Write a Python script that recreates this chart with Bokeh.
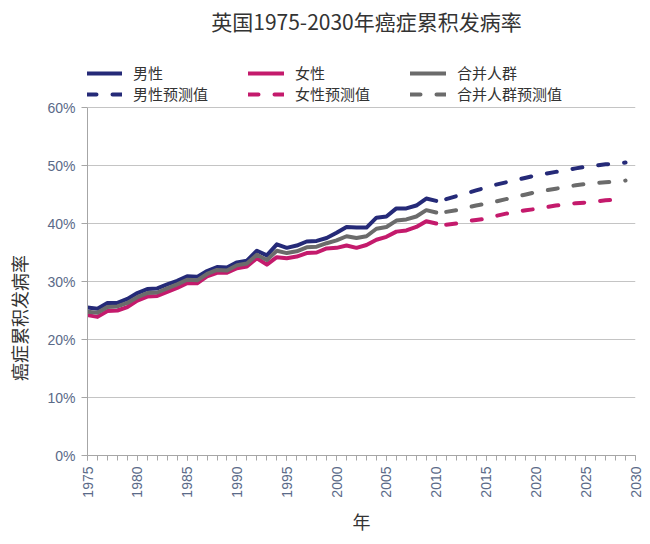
import math
from bokeh.plotting import figure
from bokeh.models import (Range1d, SingleIntervalTicker, FixedTicker, PrintfTickFormatter,
                          Legend, LegendItem, Label)
from bokeh.embed import file_html
from bokeh.resources import INLINE

# ---------------- data ----------------
years_obs = list(range(1975, 2011))
men_obs = [25.5, 25.3, 26.3, 26.3, 27.0, 28.0, 28.7, 28.8, 29.5, 30.1,
           30.9, 30.8, 31.8, 32.5, 32.4, 33.3, 33.6, 35.3, 34.5, 36.4,
           35.8, 36.2, 36.9, 37.0, 37.5, 38.4, 39.4, 39.3, 39.3, 41.0,
           41.2, 42.6, 42.6, 43.1, 44.3, 43.9]
women_obs = [24.2, 23.9, 24.9, 25.0, 25.6, 26.7, 27.4, 27.5, 28.2, 28.9,
             29.7, 29.7, 30.9, 31.5, 31.5, 32.3, 32.6, 34.0, 32.9, 34.2,
             34.0, 34.3, 34.9, 35.0, 35.7, 35.8, 36.2, 35.8, 36.3, 37.2,
             37.7, 38.6, 38.8, 39.4, 40.4, 40.0]
all_obs = [24.8, 24.6, 25.6, 25.7, 26.3, 27.3, 28.0, 28.1, 28.8, 29.5,
           30.3, 30.2, 31.3, 32.0, 31.9, 32.8, 33.1, 34.6, 33.7, 35.3,
           34.9, 35.2, 35.9, 36.0, 36.6, 37.1, 37.8, 37.5, 37.8, 39.1,
           39.4, 40.5, 40.7, 41.2, 42.3, 41.9]

years_proj = list(range(2011, 2030))
men_proj = [44.2, 44.7, 45.2, 45.7, 46.2, 46.7, 47.1, 47.5, 47.9, 48.3,
            48.6, 48.9, 49.2, 49.5, 49.8, 50.0, 50.2, 50.3, 50.5]
women_proj = [39.8, 40.0, 40.4, 40.6, 40.8, 41.3, 41.7, 42.0, 42.3, 42.5,
              42.8, 43.1, 43.3, 43.5, 43.6, 43.8, 44.0, 44.1, 44.2]
all_proj = [42.0, 42.3, 42.7, 43.1, 43.4, 43.8, 44.2, 44.6, 45.0, 45.4,
            45.7, 46.0, 46.3, 46.6, 46.8, 47.0, 47.1, 47.2, 47.4]

series_labels = ["男性", "女性", "合并人群", "男性预测值", "女性预测值", "合并人群预测值"]
title_text = "英国1975-2030年癌症累积发病率"
x_label = "年"
y_label = "癌症累积发病率"
y_ticks = [0, 10, 20, 30, 40, 50, 60]

# ---------------- style ----------------
C_MEN = "#252a78"
C_WOMEN = "#c41a6c"
C_ALL = "#6b6b6b"
TICK_COLOR = "#5a6a88"
TEXT_COLOR = "#333333"
CJK = "Noto Sans CJK SC"

W, H = 650, 540
TOP, BOTTOM = 0, 455           # frame top / bottom (px): frame spans the top so title & legend sit inside it
Y60 = 107                      # where the 60% line sits
Y_MAX = 60 + (Y60 - TOP) * 60 / float(BOTTOM - Y60)
p = figure(width=W, height=H, output_backend="svg", toolbar_location=None, title=None,
           x_range=Range1d(1975, 2030), y_range=Range1d(0, Y_MAX),
           min_border_left=87, min_border_right=15, min_border_top=TOP,
           min_border_bottom=H - BOTTOM)
p.outline_line_color = None
p.background_fill_color = "white"
p.border_fill_color = "white"

# axes
p.xaxis.ticker = SingleIntervalTicker(interval=5, num_minor_ticks=5)
p.xaxis.major_label_orientation = math.pi / 2
p.xaxis.major_label_text_font = "Liberation Sans"
p.xaxis.major_label_text_font_size = "14px"
p.xaxis.major_label_text_color = TICK_COLOR
p.xaxis.axis_line_color = "#a6a6a6"
p.xaxis.major_tick_line_color = "#a6a6a6"
p.xaxis.minor_tick_line_color = "#a6a6a6"
p.xaxis.major_tick_in = 0
p.xaxis.major_tick_out = 5
p.xaxis.minor_tick_in = 0
p.xaxis.minor_tick_out = 5
p.xaxis.major_label_standoff = 6
p.xaxis.axis_label = x_label
p.xaxis.axis_label_text_font = CJK
p.xaxis.axis_label_text_font_size = "18px"
p.xaxis.axis_label_text_font_style = "normal"
p.xaxis.axis_label_text_color = TEXT_COLOR
p.xaxis.axis_label_standoff = 7

p.yaxis.ticker = FixedTicker(ticks=y_ticks)
p.yaxis.bounds = (0, 60)
p.yaxis.formatter = PrintfTickFormatter(format="%d%%")
p.yaxis.major_label_text_font = "Liberation Sans"
p.yaxis.major_label_text_font_size = "14px"
p.yaxis.major_label_text_color = TICK_COLOR
p.yaxis.axis_line_color = "#a6a6a6"
p.yaxis.major_tick_line_color = "#a6a6a6"
p.yaxis.major_tick_in = 0
p.yaxis.major_tick_out = 6
p.yaxis.minor_tick_line_color = None
p.yaxis.major_label_standoff = 6
# trailing ideographic spaces push the (frame-centred) label down to where the reference has it
p.yaxis.axis_label = y_label + "\u3000" * 10
p.yaxis.axis_label_text_font = CJK
p.yaxis.axis_label_text_font_size = "18px"
p.yaxis.axis_label_text_font_style = "normal"
p.yaxis.axis_label_text_color = TEXT_COLOR
p.yaxis.axis_label_standoff = 12

p.xgrid.grid_line_color = None
p.ygrid.ticker = FixedTicker(ticks=y_ticks)
p.ygrid.grid_line_color = "#c4c4c4"
p.ygrid.grid_line_width = 1

# lines
LW = 4
common = dict(line_width=LW, line_join="round", line_cap="round")
r_men = p.line(years_obs, men_obs, line_color=C_MEN, **common)
r_women = p.line(years_obs, women_obs, line_color=C_WOMEN, **common)
r_all = p.line(years_obs, all_obs, line_color=C_ALL, **common)
DASH = "10 16"
r_men_p = p.line(years_proj, men_proj, line_color=C_MEN, line_dash=DASH, **common)
r_women_p = p.line(years_proj, women_proj, line_color=C_WOMEN, line_dash=DASH, **common)
r_all_p = p.line(years_proj, all_proj, line_color=C_ALL, line_dash=DASH, **common)

renderers = [r_men, r_women, r_all, r_men_p, r_women_p, r_all_p]
items = [LegendItem(label=lab, renderers=[r]) for lab, r in zip(series_labels, renderers)]
# location = bottom-left corner of the legend, measured from the frame's bottom-left
legend = Legend(items=items, orientation="horizontal", ncols=3,
                location=(-1, BOTTOM - 104), padding=0, margin=0, spacing=0,
                glyph_width=36, glyph_height=18, label_standoff=11,
                label_width=115, label_height=18,
                label_text_font=CJK, label_text_font_size="15px",
                label_text_color=TEXT_COLOR,
                border_line_color=None, background_fill_alpha=0)
p.add_layout(legend, "center")

# chart title (inside the frame, above the legend)
p.add_layout(Label(x=366 - 87, y=BOTTOM - 20, x_units="screen", y_units="screen",
                   text=title_text, text_font=CJK, text_font_size="21px",
                   text_color=TEXT_COLOR, text_align="center", text_baseline="middle"))

open("out.html", "w").write(file_html(p, INLINE))
